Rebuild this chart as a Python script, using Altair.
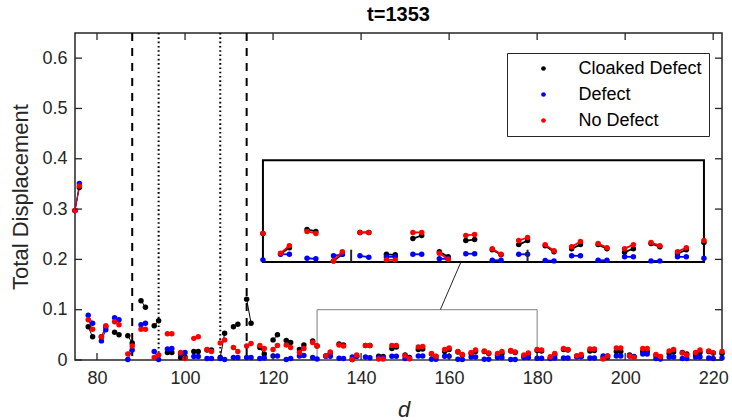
import altair as alt
import pandas as pd

# ---------------- data ----------------
D = [75, 76, 78, 79, 81, 82, 84, 85, 87, 88, 90, 91, 93, 94, 96, 97, 99, 100,
     102, 103, 105, 106, 108, 109, 111, 112, 114, 115, 117, 118, 120, 121, 123, 124,
     126, 127, 129, 130, 132, 133, 135, 136, 138, 139, 141, 142, 144, 145, 147, 148,
     150, 151, 153, 154, 156, 157, 159, 160, 162, 163, 165, 166, 168, 169, 171, 172,
     174, 175, 177, 178, 180, 181, 183, 184, 186, 187, 189, 190, 192, 193, 195, 196,
     198, 199, 201, 202, 204, 205, 207, 208, 210, 211, 213, 214, 216, 217, 219, 220, 222]

CLOAKED = [0.297, 0.343, 0.066, 0.046, 0.046, 0.066, 0.055, 0.050, 0.048, 0.034,
           0.118, 0.105, 0.068, 0.078, 0.015, 0.015, 0.005, 0.006, 0.017, 0.017,
           0.020, 0.020, 0.005, 0.053, 0.066, 0.071, 0.121, 0.073, 0.025, 0.012,
           0.040, 0.050, 0.039, 0.035, 0.021, 0.030, 0.038, 0.028, 0.008, 0.014,
           0.032, 0.030, 0.001, 0.0075, 0.029, 0.029, 0.0075, 0.007, 0.023, 0.026,
           0.010, 0.005, 0.021, 0.022, 0.012, 0.007, 0.017, 0.021, 0.016, 0.010,
           0.013, 0.017, 0.017, 0.013, 0.0095, 0.013, 0.018, 0.015, 0.008, 0.012,
           0.019, 0.018, 0.0035, 0.010, 0.021, 0.020, 0.007, 0.008, 0.018, 0.019,
           0.005, 0.006, 0.017, 0.017, 0.010, 0.007, 0.017, 0.017, 0.009, 0.006,
           0.013, 0.016, 0.015, 0.012, 0.011, 0.015, 0.017, 0.014, 0.013]

DEFECT = [0.297, 0.351, 0.089, 0.073, 0.038, 0.060, 0.084, 0.080, 0.001, 0.020,
          0.070, 0.073, 0.017, 0.001, 0.022, 0.023, 0.012, 0.015, 0.007, 0.007,
          0.003, 0.003, 0.003, 0.001, 0.005, 0.005, 0.005, 0.005, 0.003, 0.004,
          0.008, 0.008, 0.001, 0.003, 0.008, 0.009, 0.005, 0.002, 0.0075, 0.0075,
          0.0036, 0.003, 0.006, 0.0075, 0.006, 0.0046, 0.005, 0.005, 0.0075, 0.0075,
          0.003, 0.003, 0.008, 0.008, 0.0016, 0.0016, 0.0075, 0.0075, 0.0015, 0.001,
          0.006, 0.006, 0.0016, 0.0016, 0.005, 0.005, 0.001, 0.001, 0.005, 0.005,
          0.0035, 0.0035, 0.003, 0.004, 0.004, 0.004, 0.0065, 0.0065, 0.004, 0.004,
          0.008, 0.008, 0.008, 0.008, 0.008, 0.006, 0.012, 0.012, 0.003, 0.002,
          0.006, 0.006, 0.003, 0.003, 0.006, 0.006, 0.004, 0.003, 0.004]

NO_DEFECT = [0.297, 0.346, 0.080, 0.061, 0.046, 0.068, 0.076, 0.070, 0.012, 0.028,
             0.061, 0.061, 0.005, 0.010, 0.052, 0.052, 0.015, 0.003, 0.043, 0.046,
             0.021, 0.017, 0.034, 0.040, 0.025, 0.017, 0.028, 0.033, 0.029, 0.023,
             0.021, 0.029, 0.030, 0.025, 0.015, 0.023, 0.035, 0.028, 0.0085, 0.016,
             0.030, 0.028, 0.001, 0.010, 0.029, 0.029, 0.002, 0.002, 0.029, 0.029,
             0.0085, 0.0026, 0.026, 0.027, 0.013, 0.0075, 0.021, 0.024, 0.017, 0.011,
             0.015, 0.020, 0.018, 0.014, 0.013, 0.017, 0.019, 0.016, 0.010, 0.014,
             0.021, 0.020, 0.0066, 0.013, 0.023, 0.021, 0.0085, 0.011, 0.022, 0.022,
             0.002, 0.008, 0.024, 0.024, 0.008, 0.005, 0.023, 0.023, 0.011, 0.007,
             0.018, 0.021, 0.014, 0.010, 0.015, 0.020, 0.018, 0.014, 0.017]

SERIES = ["Cloaked Defect", "Defect", "No Defect"]
COLORS = ["#000000", "#0000ff", "#ff0000"]

X_TICKS = [80, 100, 120, 140, 160, 180, 200, 220]
Y_TICKS = [0, 0.1, 0.2, 0.3, 0.4, 0.5, 0.6]
X_DOMAIN = [75, 222]
Y_DOMAIN = [0, 0.65]
DASHED = [88, 114]
DOTTED = [94, 108]
ZOOM_X = [130, 180]          # zoomed region (data units)
ZOOM_Y = [0, 0.1]
INSET_TICKS = [140, 160]
CONNECTOR = {"d": [158], "v": [0.1], "d2": [162.7], "v2": [0.195]}
TITLE = "t=1353"

# ---------------- layout ----------------
W, H = 647, 327
FONT = "Liberation Sans"
AX = "#262626"
TICK = 7                      # tick length in px
TICK_V = TICK / H * (Y_DOMAIN[1] - Y_DOMAIN[0])
TICK_D = TICK / W * (X_DOMAIN[1] - X_DOMAIN[0])
INSET_AT_X = [117.7, 217.9]   # where the inset sits, in main-axis units
INSET_AT_Y = [0.195, 0.397]
INSET_TICK_LEN = 0.012        # inset y units

rows = []
for k, (name, vals) in enumerate(zip(SERIES, [CLOAKED, DEFECT, NO_DEFECT])):
    for d, v in zip(D, vals):
        rows.append({"d": d, "v": v, "series": name, "pair": (d - 75) // 3})
df = pd.DataFrame(rows)
df_in = df[(df.d >= ZOOM_X[0]) & (df.d <= ZOOM_X[1])]

sx = (INSET_AT_X[1] - INSET_AT_X[0]) / (ZOOM_X[1] - ZOOM_X[0])
sy = (INSET_AT_Y[1] - INSET_AT_Y[0]) / (ZOOM_Y[1] - ZOOM_Y[0])
mapx = lambda f: f"{INSET_AT_X[0]} + (datum.{f} - {ZOOM_X[0]}) * {sx}"
mapy = lambda f: f"{INSET_AT_Y[0]} + (datum.{f} - {ZOOM_Y[0]}) * {sy}"

xs = alt.Scale(domain=X_DOMAIN, nice=False, zero=False)
ys = alt.Scale(domain=Y_DOMAIN, nice=False, zero=False)
xa = alt.Axis(values=X_TICKS, title="d", titleFontStyle="italic", labelPadding=9,
              titleX=W / 2 + 5, titleY=56, titleBaseline="alphabetic", titleAlign="center")
ya = alt.Axis(values=Y_TICKS, format=".1~f", title="Total Displacement", labelPadding=8,
              titleX=-55, titleY=H / 2, titleBaseline="middle", titleAlign="center")
X = lambda f="d": alt.X(f"{f}:Q", scale=xs, axis=xa)
Y = lambda f="v": alt.Y(f"{f}:Q", scale=ys, axis=ya)

legend = alt.Legend(title=None, orient="none", legendX=432, legendY=20,
                    padding=6.5, rowPadding=8, symbolOffset=21, labelOffset=26,
                    strokeColor=AX, fillColor="white", symbolType="circle",
                    symbolSize=22, labelFontSize=18, labelFont=FONT, labelColor="black")
color = alt.Color("series:N", scale=alt.Scale(domain=SERIES, range=COLORS), legend=legend)

zoom_df = pd.DataFrame({"d": [ZOOM_X[0]], "d2": [ZOOM_X[1]], "v": [ZOOM_Y[0]], "v2": [ZOOM_Y[1]]})

# all inward axis ticks as segments (d,v) -> (d2,v2), same shape as the connector
tick_rows = []
for t in X_TICKS:
    tick_rows.append({"d": t, "d2": t, "v": Y_DOMAIN[0], "v2": Y_DOMAIN[0] + TICK_V})
    tick_rows.append({"d": t, "d2": t, "v": Y_DOMAIN[1], "v2": Y_DOMAIN[1] - TICK_V})
for t in Y_TICKS:
    tick_rows.append({"d": X_DOMAIN[0], "d2": X_DOMAIN[0] + TICK_D, "v": t, "v2": t})
    tick_rows.append({"d": X_DOMAIN[1], "d2": X_DOMAIN[1] - TICK_D, "v": t, "v2": t})
ticks_df = pd.DataFrame(tick_rows)

layers = []
layers.append(alt.Chart(zoom_df).mark_rect(fillOpacity=0, stroke="#7f7f7f", strokeWidth=1).encode(
    x=X(), x2="d2:Q", y=Y(), y2="v2:Q"))
layers.append(alt.Chart(pd.DataFrame({"d": DASHED})).mark_rule(
    color="black", strokeWidth=2, strokeDash=[8, 7]).encode(x=X()))
layers.append(alt.Chart(pd.DataFrame({"d": DOTTED})).mark_rule(
    color="black", strokeWidth=2, strokeDash=[1.6, 2.7]).encode(x=X()))
for name, c in zip(SERIES, COLORS):
    layers.append(alt.Chart(df).transform_filter(alt.datum.series == name).mark_line(
        strokeWidth=1, color=c).encode(x=X(), y=Y(), detail="pair:N", order="d:Q"))
layers.append(alt.Chart(df).mark_circle(size=30, opacity=1).encode(x=X(), y=Y(), color=color))

layers.append(alt.Chart(ticks_df).mark_rule(color=AX, strokeWidth=1.3).encode(
    x=X(), y=Y(), x2="d2:Q", y2="v2:Q"))

layers.append(alt.Chart(pd.DataFrame(CONNECTOR)).mark_rule(color=AX, strokeWidth=1).encode(
    x=X(), y=Y(), x2="d2:Q", y2="v2:Q"))

# ---------------- inset (zoom of 130..180) ----------------
layers.append(alt.Chart(zoom_df).transform_calculate(
    dm=mapx("d"), dm2=mapx("d2"), vm=mapy("v"), vm2=mapy("v2")
).mark_rect(fill="white", stroke="black", strokeWidth=2).encode(
    x=X("dm"), x2="dm2:Q", y=Y("vm"), y2="vm2:Q"))
for name, c in zip(SERIES, COLORS):
    base = alt.Chart(df_in).transform_filter(alt.datum.series == name).transform_calculate(
        dm=mapx("d"), vm=mapy("v"))
    layers.append(base.mark_line(strokeWidth=1.8, color=c).encode(
        x=X("dm"), y=Y("vm"), detail="pair:N", order="d:Q"))
    layers.append(base.mark_circle(size=30, opacity=1, color=c).encode(x=X("dm"), y=Y("vm")))
layers.append(alt.Chart(pd.DataFrame({"d": INSET_TICKS, "v": [ZOOM_Y[0]] * len(INSET_TICKS),
                                      "v2": [ZOOM_Y[0] + INSET_TICK_LEN] * len(INSET_TICKS)})
              ).transform_calculate(dm=mapx("d"), vm=mapy("v"), vm2=mapy("v2")).mark_rule(
    color=AX, strokeWidth=2).encode(x=X("dm"), y=Y("vm"), y2="vm2:Q"))

chart = alt.layer(*layers).properties(
    width=W, height=H,
    background="white",
    autosize=alt.AutoSizeParams(type="none"),
    padding={"left": 75, "top": 33, "right": 10, "bottom": 60},
    title=alt.Title(TITLE, fontSize=20, fontWeight="bold", font=FONT, color="black",
                    anchor="middle", offset=7),
).configure_view(stroke=AX, strokeWidth=1.5).configure_axis(
    grid=False, ticks=False, domain=False, labelFont=FONT, labelFontSize=18, labelColor=AX,
    titleFont=FONT, titleFontSize=22, titleColor=AX, titleFontWeight="normal"
)

chart.save("out.html", embed_options={"renderer": "svg", "actions": False})
